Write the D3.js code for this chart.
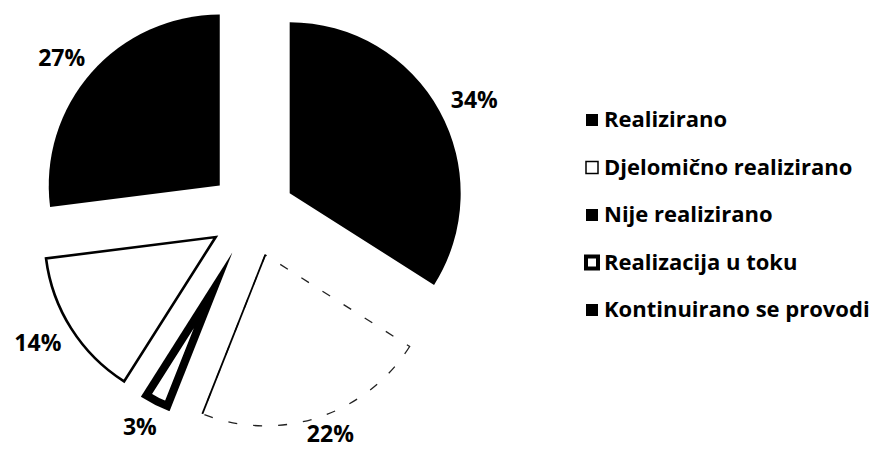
<!DOCTYPE html>
<html>
<head>
  <meta charset="utf-8">
  <script src="https://cdn.jsdelivr.net/npm/d3@7"></script>
  <style>
    body { margin: 0; background: #fff; }
    text { font-family: "Open Sans", Lato, sans-serif; font-weight: bold; fill: #000; }
  </style>
</head>
<body>
  <svg id="pie" width="869" height="450"></svg>
  <script>
    // data
    const categories = ["Realizirano", "Djelomično realizirano", "Nije realizirano", "Realizacija u toku", "Kontinuirano se provodi"];
    const values = [34, 22, 3, 14, 27];
    const labels = ["34%", "22%", "3%", "14%", "27%"];

    const svg = d3.select("svg#pie");
    const height = +svg.attr("height");
    const cx = 252, cy = 214;
    const radius = 171;
    const explode = 43;
    const labelGap = 230; // labels sit just outside this radius (like "outside end")

    const rows = categories.map((c, i) => ({ name: c, value: values[i], label: labels[i], idx: i }));

    const pie = d3.pie().sort(null).value(d => d.value);
    const arcs = pie(rows);

    const arc = d3.arc().innerRadius(0).outerRadius(radius);

    // offset of each slice along its bisector
    const offset = d => {
      const a = (d.startAngle + d.endAngle) / 2;
      return [Math.sin(a) * explode, -Math.cos(a) * explode];
    };

    const g = svg.append("g").attr("transform", `translate(${cx},${cy})`);
    const defs = svg.append("defs");

    const slices = g.selectAll("g.slice")
      .data(arcs)
      .join("g")
      .attr("class", "slice")
      .attr("transform", d => `translate(${offset(d)})`);

    slices.each(function (d, i) {
      const s = d3.select(this);
      const p = arc(d);
      if (i === 0 || i === 4) {
        s.append("path").attr("d", p).attr("fill", "#000");
      } else if (i === 1) {
        // white slice, faint broken outline from the scan
        s.append("path").attr("d", p)
          .attr("fill", "#fff")
          .attr("stroke", "#222")
          .attr("stroke-width", 1.3)
          .attr("stroke-dasharray", "9 16");
        const a = d.endAngle;
        s.append("line")
          .attr("x1", 0).attr("y1", 0)
          .attr("x2", Math.sin(a) * radius).attr("y2", -Math.cos(a) * radius)
          .attr("stroke", "#000").attr("stroke-width", 1.8);
      } else if (i === 2) {
        // thick inner border only
        defs.append("clipPath").attr("id", "clip3")
          .append("path").attr("d", p);
        s.append("path").attr("d", p)
          .attr("fill", "#fff")
          .attr("stroke", "#000")
          .attr("stroke-width", 16)
          .attr("clip-path", "url(#clip3)");
      } else {
        s.append("path").attr("d", p)
          .attr("fill", "#fff")
          .attr("stroke", "#000")
          .attr("stroke-width", 2.6)
          .attr("stroke-linejoin", "miter");
      }
    });

    // percentage labels, box edge touching labelGap radius
    const pct = g.selectAll("text.pct")
      .data(arcs)
      .join("text")
      .attr("class", "pct")
      .attr("text-anchor", "middle")
      .attr("dominant-baseline", "central")
      .style("font-size", "23px")
      .text(d => d.data.label);

    pct.each(function (d) {
      const bb = this.getBBox();
      const a = (d.startAngle + d.endAngle) / 2;
      const sx = Math.sin(a), sy = -Math.cos(a);
      // keep the whole text box inside the picture
      const maxY = height - cy - bb.height / 2 - 1;
      d3.select(this)
        .attr("x", sx * (labelGap + bb.width / 2))
        .attr("y", Math.min(sy * (labelGap + 8), maxY));
    });

    // legend
    const legend = svg.append("g").attr("transform", "translate(585,127)");
    const rowH = 47.5;
    const item = legend.selectAll("g.item")
      .data(rows)
      .join("g")
      .attr("class", "item")
      .attr("transform", (d, i) => `translate(0,${i * rowH})`);

    item.append("rect")
      .attr("x", 1).attr("y", -13)
      .attr("width", 12).attr("height", 12)
      .attr("fill", d => (d.idx === 1 || d.idx === 3) ? "#fff" : "#000")
      .attr("stroke", "#000")
      .attr("stroke-width", d => d.idx === 1 ? 1.5 : d.idx === 3 ? 4 : 0);

    item.append("text")
      .attr("x", 19)
      .attr("y", 0)
      .style("font-size", "22px")
      .text(d => d.name);
  </script>
</body>
</html>
